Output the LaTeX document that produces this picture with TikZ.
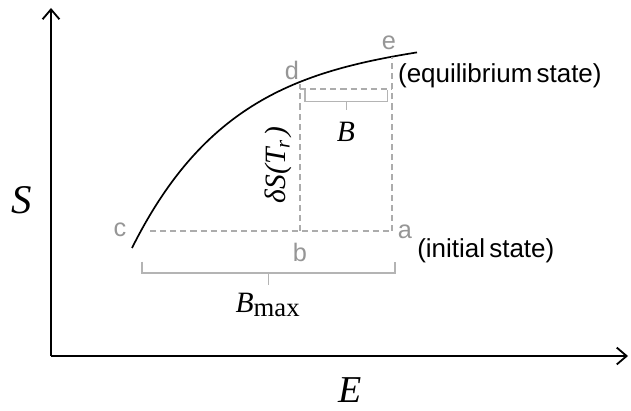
\documentclass[tikz,border=0pt]{standalone}
\usepackage{fontspec}
\setmainfont{Liberation Serif}
\setsansfont{Liberation Sans}
\usetikzlibrary{arrows.meta}
\definecolor{ptgray}{RGB}{150,150,150}
\definecolor{dashgray}{RGB}{172,172,172}
\definecolor{bracegray}{RGB}{180,180,180}
\begin{document}
\begin{tikzpicture}[
    >={Straight Barb[length=7pt,width=12pt]},
    every node/.style={font=\itshape\fontsize{21}{24}\selectfont, inner sep=0pt},
    pt/.style={font=\sffamily\fontsize{18}{20}\selectfont, text=ptgray},
    state/.style={font=\sffamily\fontsize{18.5}{20}\selectfont, anchor=west},
    guide/.style={dashgray, dash pattern=on 4.3pt off 2.9pt, line width=0.9pt},
    brace/.style={bracegray, line width=1pt}
]
\useasboundingbox (-1.275,-1.35) rectangle (14.5,8.9);

% axes
\coordinate (O) at (0,0);
\coordinate (ytip) at (0,8.7);
\coordinate (xtip) at (14.425,0);
\draw[->,line width=1.3pt] (O) -- (ytip);
\draw[->,line width=1.3pt] (O) -- (xtip);
\node (S) at (-0.725,3.9) {\fontsize{29}{30}\selectfont S};
\node (E) at (7.475,-0.85) {\fontsize{27}{28}\selectfont E};

% entropy curve
\coordinate (start) at (2.025,2.7);
\coordinate (end) at (9.15,7.59);
\draw[line width=1.2pt] (start) .. controls (3.825,6.3) and (6.15,7.11) .. (end);

% points
\coordinate (a) at (8.525,3.125);
\coordinate (b) at (6.225,3.125);
\coordinate (c) at (2.475,3.125);
\coordinate (d) at (6.225,6.8);
\coordinate (e) at (8.525,7.48);
\coordinate (dB) at (6.225,6.675);
\coordinate (eB) at (8.525,6.675);

\draw[guide] (c) -- (a);
\draw[guide] (b) -- (d);
\draw[guide] (a) -- (e);
\draw[guide] (dB) -- (eB);

\node[pt] (la) at (8.85,3.1) {a};
\node[pt] (lb) at (6.225,2.6) {b};
\node[pt] (lc) at (1.725,3.15) {c};
\node[pt] (ld) at (6.025,7.15) {d};
\node[pt] (le) at (8.45,7.825) {e};
\node[state] (init) at (9.15,2.62) {(initial\hspace{-0.12em} state)};
\node[state] (equi) at (8.67,7.0) {(equilibrium\hspace{-0.12em} state)};

% brackets
\coordinate (B1) at (6.35,6.65);
\coordinate (B2) at (8.41,6.65);
\coordinate (Bm) at (7.39,6.36);
\draw[brace] (B1) |- (B2 |- Bm) -- (B2);
\draw[brace] (Bm) -- ++(0,-0.21);
\node (B) at (7.375,5.6) {B};

\coordinate (M1) at (2.27,2.36);
\coordinate (M2) at (8.6,2.36);
\coordinate (Mm) at (5.43,2.075);
\draw[brace] (M1) |- (M2 |- Mm) -- (M2);
\draw[brace] (Mm) -- ++(0,-0.3);
\node (Bmax) at (5.425,1.275) {B\textsubscript{\upshape\fontsize{19}{20}\selectfont max}};

\node[rotate=90] (dS) at (5.675,4.775) {δS(T\textsubscript{r}\kern0.1em)};
\end{tikzpicture}
\end{document}
